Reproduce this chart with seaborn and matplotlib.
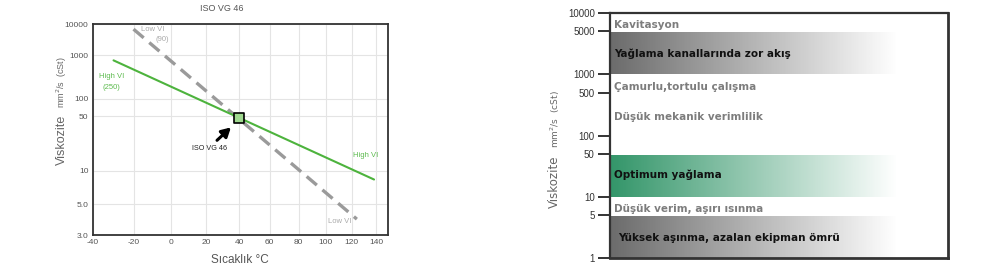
import numpy as np
import pandas as pd
import matplotlib
matplotlib.use("Agg")
import matplotlib.pyplot as plt
import seaborn as sns
from matplotlib.colors import LinearSegmentedColormap

# ---------------- data ----------------
# Left chart: viscosity-temperature lines (Walther chart)
high_vi_temp = [-30, 138]
high_vi_visc = [720, 8.2]
low_vi_temp = [-20, 124]
low_vi_visc = [6500, 3.85]
iso_point_temp = [40]
iso_point_visc = [46]
left_xticks = [-40, -20, 0, 20, 40, 60, 80, 100, 120, 140]
left_yticks = [3, 5, 10, 50, 100, 1000, 10000]
left_yticklabels = ["3.0", "5.0", "10", "50", "100", "1000", "10000"]

# Right chart: viscosity zones
right_yticks = [1, 5, 10, 50, 100, 500, 1000, 5000, 10000]
right_yticklabels = ["1", "5", "10", "50", "100", "500", "1000", "5000", "10000"]
band_lower = [1000, 10, 1]
band_upper = [5000, 50, 5]
band_kind = ["gray", "green", "gray"]
zone_labels = ["Kavitasyon", "Yağlama kanallarında zor akış", "Çamurlu,tortulu çalışma",
               "Düşük mekanik verimlilik", "Optimum yağlama", "Düşük verim, aşırı ısınma",
               "Yüksek aşınma, azalan ekipman ömrü"]
zone_label_visc = [6400, 2150, 620, 200, 22.5, 6.3, 2.1]
zone_label_dark = [False, True, False, False, True, False, True]

# ---------------- style ----------------
sns.set_theme(style="white")
plt.rcParams["font.family"] = ["Liberation Sans", "DejaVu Sans"]

fig = plt.figure(figsize=(10, 2.7), dpi=100)
fig.patch.set_facecolor("white")

# ---------------- left chart ----------------
def walther_fwd(v):
    v = np.asarray(v, dtype=float)
    return np.log10(np.log10(np.clip(v, 0.31, None) + 0.7))

def walther_inv(y):
    y = np.asarray(y, dtype=float)
    return 10 ** (10 ** y) - 0.7

def temp_fwd(t):
    t = np.asarray(t, dtype=float)
    return np.log10(np.clip(t + 273.15, 1, None))

def temp_inv(x):
    x = np.asarray(x, dtype=float)
    return 10 ** x - 273.15

axL = fig.add_axes([0.0927, 0.1296, 0.2956, 0.7815])
axL.set_xscale("function", functions=(temp_fwd, temp_inv))
axL.set_yscale("function", functions=(walther_fwd, walther_inv))
axL.set_xlim(-40, 150)
axL.set_ylim(3, 10000)

df_high = pd.DataFrame({"t": high_vi_temp, "v": high_vi_visc})
df_low = pd.DataFrame({"t": low_vi_temp, "v": low_vi_visc})
sns.lineplot(data=df_low, x="t", y="v", ax=axL, color="#9a9a9a", lw=2.4,
             linestyle=(0, (4, 2.2)), sort=False)
sns.lineplot(data=df_high, x="t", y="v", ax=axL, color="#4db33d", lw=1.5, sort=False)
df_pt = pd.DataFrame({"t": iso_point_temp, "v": iso_point_visc})
sns.scatterplot(data=df_pt, x="t", y="v", ax=axL, marker="s", s=55,
                color="#9fd88f", edgecolor="black", linewidth=1.2, zorder=5)

axL.set_xticks(left_xticks)
axL.set_xticklabels([str(t) for t in left_xticks])
axL.set_yticks(left_yticks)
axL.set_yticklabels(left_yticklabels)
axL.minorticks_off()
axL.tick_params(axis="both", labelsize=6, colors="#555555", length=0, pad=3)
axL.grid(True, color="#e4e4e4", lw=0.8)
axL.set_axisbelow(True)
for s in axL.spines.values():
    s.set_color("#333333")
    s.set_linewidth(1.3)
axL.set_xlabel("")
axL.set_ylabel("")

# annotations
axL.annotate("", xy=(36.2, 36), xytext=(25.2, 21.2),
             arrowprops=dict(arrowstyle="-|>,head_width=0.25,head_length=0.45",
                             color="black", lw=2.2))
axL.text(22.2, 17.7, "ISO VG 46", fontsize=5.2, color="#222222", ha="center", va="center")
axL.text(-10, 6500, "Low VI", fontsize=5.5, color="#aaaaaa", ha="center", va="center")
axL.text(-5, 3000, "(90)", fontsize=5.5, color="#aaaaaa", ha="center", va="center")
axL.text(-31, 293, "High VI", fontsize=5.5, color="#5dbb4f", ha="center", va="center")
axL.text(-31, 168, "(250)", fontsize=5.5, color="#5dbb4f", ha="center", va="center")
axL.text(131, 14.5, "High VI", fontsize=5.5, color="#5dbb4f", ha="center", va="center")
axL.text(110.5, 3.68, "Low VI", fontsize=5.5, color="#aaaaaa", ha="center", va="center")

axL.text(0.438, 1.072, "ISO VG 46", transform=axL.transAxes, fontsize=6.5,
         color="#555555", ha="center", va="center")
axL.text(-0.104, 0.45, "Viskozite", transform=axL.transAxes, rotation=90,
         fontsize=9, color="#666666", ha="center", va="center")
axL.text(-0.104, 0.727, "mm$^{2}$/s  (cSt)", transform=axL.transAxes, rotation=90,
         fontsize=6.5, color="#666666", ha="center", va="center")
axL.text(0.499, -0.118, "Sıcaklık °C", transform=axL.transAxes,
         fontsize=8.5, color="#555555", ha="center", va="center")

# ---------------- right chart ----------------
axR = fig.add_axes([0.610, 0.0444, 0.338, 0.9074])
axR.set_yscale("log")
axR.set_ylim(1, 10000)
axR.set_xlim(0, 1)

cmaps = {
    "gray": LinearSegmentedColormap.from_list("g", ["#6c6c6c", "#ffffff"]),
    "green": LinearSegmentedColormap.from_list("gr", ["#34966a", "#ffffff"]),
}
grad = np.clip(np.linspace(0, 1, 256) / 0.85, 0, 1).reshape(1, -1)
for lo, hi, kind in zip(band_lower, band_upper, band_kind):
    axR.imshow(grad, extent=(0, 1, lo, hi), aspect="auto", cmap=cmaps[kind],
               vmin=0, vmax=1, origin="lower", interpolation="bilinear", zorder=1)
axR.set_xlim(0, 1)
axR.set_ylim(1, 10000)

for lab, v, dark in zip(zone_labels, zone_label_visc, zone_label_dark):
    axR.text(0.012 if lab != zone_labels[-1] else 0.025, v, lab,
             fontsize=7.5, fontweight="bold", family="DejaVu Sans",
             color="#111111" if dark else "#7d7d7d", ha="left", va="center", zorder=3)

axR.set_yticks(right_yticks)
axR.set_yticklabels(right_yticklabels)
axR.yaxis.set_minor_locator(matplotlib.ticker.NullLocator())
axR.set_xticks([])
axR.tick_params(axis="y", direction="out", length=9, width=1.4, color="#333333",
                labelsize=7, labelcolor="#333333", pad=2, left=True)
for name, s in axR.spines.items():
    s.set_color("#333333")
    s.set_linewidth(1.6 if name in ("left", "top") else 2.0)
axR.set_xlabel("")
axR.set_ylabel("")
axR.text(-0.163, 0.31, "Viskozite", transform=axR.transAxes, rotation=90,
         fontsize=8.5, color="#666666", ha="center", va="center", family="DejaVu Sans")
axR.text(-0.163, 0.565, "mm$^{2}$/s  (cSt)", transform=axR.transAxes, rotation=90,
         fontsize=6.5, color="#666666", ha="center", va="center", family="DejaVu Sans")

fig.savefig("out.png", dpi=100, facecolor="white")
